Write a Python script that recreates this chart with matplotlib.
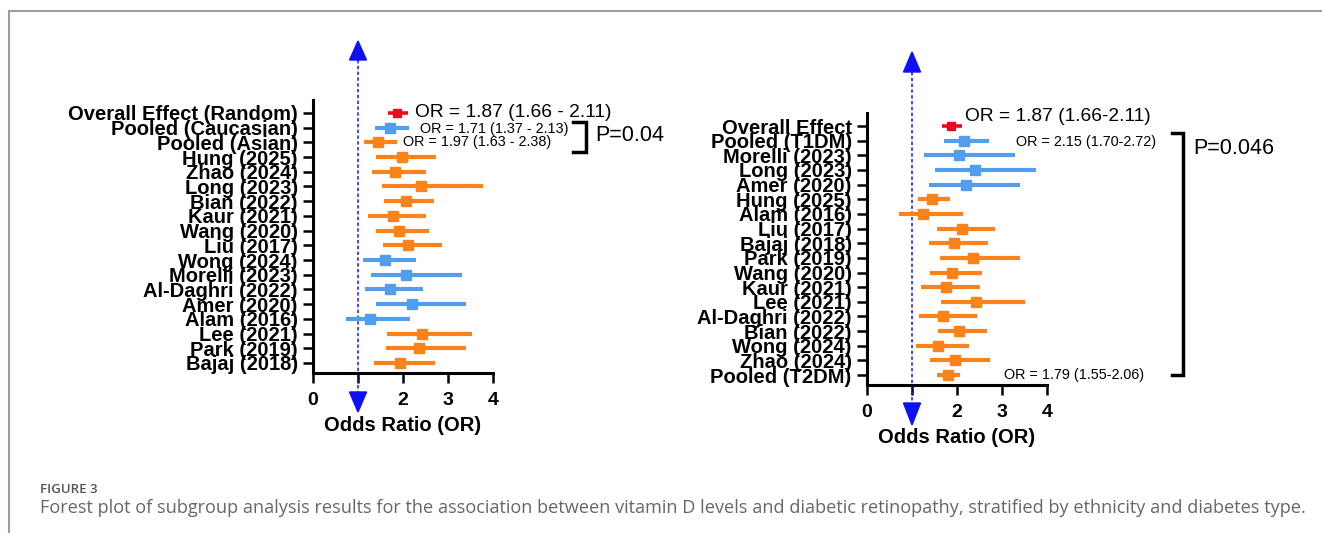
import matplotlib
matplotlib.use("Agg")
import matplotlib.pyplot as plt
from matplotlib.lines import Line2D
from matplotlib.patches import Polygon

plt.rcParams['font.family'] = ['Liberation Sans', 'DejaVu Sans']

# ---------------- data ----------------
ref_or = 1.0

left_labels = ["Overall Effect (Random)", "Pooled (Caucasian)", "Pooled (Asian)",
               "Hung (2025)", "Zhao (2024)", "Long (2023)", "Bian (2022)", "Kaur (2021)",
               "Wang (2020)", "Liu (2017)", "Wong (2024)", "Morelli (2023)",
               "Al-Daghri (2022)", "Amer (2020)", "Alam (2016)", "Lee (2021)",
               "Park (2019)", "Bajaj (2018)"]
left_or = [1.87, 1.71, 1.45, 1.97, 1.82, 2.41, 2.06, 1.77, 1.90, 2.10,
           1.60, 2.06, 1.70, 2.21, 1.27, 2.43, 2.36, 1.93]
left_lo = [1.66, 1.37, 1.14, 1.40, 1.30, 1.53, 1.58, 1.23, 1.40, 1.56,
           1.10, 1.28, 1.16, 1.40, 0.73, 1.65, 1.62, 1.36]
left_hi = [2.11, 2.13, 1.86, 2.73, 2.51, 3.77, 2.69, 2.51, 2.58, 2.86,
           2.29, 3.30, 2.45, 3.40, 2.16, 3.53, 3.41, 2.70]
left_group = ["overall", "cau", "asian", "asian", "asian", "asian", "asian", "asian",
              "asian", "asian", "cau", "cau", "cau", "cau", "cau", "asian", "asian", "asian"]

right_labels = ["Overall Effect", "Pooled (T1DM)", "Morelli (2023)", "Long (2023)",
                "Amer (2020)", "Hung (2025)", "Alam (2016)", "Liu (2017)", "Bajaj (2018)",
                "Park (2019)", "Wang (2020)", "Kaur (2021)", "Lee (2021)",
                "Al-Daghri (2022)", "Bian (2022)", "Wong (2024)", "Zhao (2024)",
                "Pooled (T2DM)"]
right_or = [1.87, 2.15, 2.04, 2.41, 2.19, 1.45, 1.25, 2.11, 1.93, 2.36,
            1.89, 1.76, 2.42, 1.68, 2.04, 1.58, 1.96, 1.79]
right_lo = [1.66, 1.70, 1.27, 1.52, 1.38, 1.13, 0.71, 1.56, 1.37, 1.62,
            1.39, 1.21, 1.65, 1.15, 1.57, 1.09, 1.39, 1.55]
right_hi = [2.11, 2.72, 3.29, 3.76, 3.40, 1.84, 2.14, 2.84, 2.68, 3.40,
            2.56, 2.50, 3.50, 2.44, 2.67, 2.27, 2.73, 2.06]
right_group = ["overall", "t1", "t1", "t1", "t1", "t2", "t2", "t2", "t2", "t2",
               "t2", "t2", "t2", "t2", "t2", "t2", "t2", "t2"]

x_ticks = [0, 1, 2, 3, 4]
x_ticklabels = ["0", "", "2", "3", "4"]
x_title = "Odds Ratio (OR)"

left_notes = [("OR = 1.87 (1.66 - 2.11)", 2.27, 0.0, 13.8),
              ("OR = 1.71 (1.37 - 2.13)", 2.38, 1.1, 10.4),
              ("OR = 1.97 (1.63 - 2.38)", 2.0, 2.0, 10.4)]
right_notes = [("OR = 1.87 (1.66-2.11)", 2.18, -0.63, 13.8),
               ("OR = 2.15 (1.70-2.72)", 3.31, 1.07, 10.4),
               ("OR = 1.79 (1.55-2.06)", 3.04, 17.0, 10.4)]
left_p = "P=0.04"
right_p = "P=0.046"

caption_head = "FIGURE 3"
caption_text = ("Forest plot of subgroup analysis results for the association between vitamin D "
                "levels and diabetic retinopathy, stratified by ethnicity and diabetes type.")

# ---------------- style ----------------
colors = {"overall": "#EA0A1E", "cau": "#519FEC", "asian": "#FB8319",
          "t1": "#519FEC", "t2": "#FB8319"}
W, H = 1322, 533
fig = plt.figure(figsize=(W / 100, H / 100), dpi=100)


def px_axes(x0, x1, ytop, ybot):
    return fig.add_axes([x0 / W, 1 - ybot / H, (x1 - x0) / W, (ybot - ytop) / H])


def forest(ax, labels, ors, los, his, groups, ylim, arrow_up, arrow_dn):
    n = len(labels)
    ys = list(range(n))
    for y, o, lo, hi, g in zip(ys, ors, los, his, groups):
        c = colors[g]
        lw = 2.6 if g == "overall" else 3.0
        ax.plot([lo, hi], [y, y], color=c, lw=lw, solid_capstyle='butt', zorder=3)
        ax.plot([o], [y], marker='s', ms=6.8 if g != "overall" else 6.2,
                color=c, mec=c, zorder=4)
    ax.set_xlim(0, 4)
    ax.set_ylim(*ylim)
    ax.set_yticks(ys)
    ax.set_yticklabels(labels, fontsize=14.5, fontweight='bold')
    ax.set_xticks(x_ticks)
    ax.set_xticklabels(x_ticklabels, fontsize=14, fontweight='bold')
    ax.set_xlabel(x_title, fontsize=14.5, fontweight='bold', labelpad=5)
    for s in ("top", "right"):
        ax.spines[s].set_visible(False)
    for s in ("left", "bottom"):
        ax.spines[s].set_linewidth(2.2)
    ax.tick_params(axis='y', length=7.5, width=1.8, pad=3.5)
    ax.tick_params(axis='x', length=7, width=1.8, pad=7)
    ax.set_facecolor('none')

    tr = ax.get_xaxis_transform()
    hw = 8.5 / 45.0
    (ut, ub), (db, dt) = arrow_up, arrow_dn
    ax.plot([ref_or, ref_or], [ub, db], transform=tr, color='#1515F0', lw=1.1,
            linestyle=(0, (2.2, 1.6)), clip_on=False, zorder=2)
    ax.add_patch(Polygon([[ref_or, ut], [ref_or - hw, ub], [ref_or + hw, ub]],
                         closed=True, transform=tr, color='#0F0FF5', clip_on=False, zorder=5))
    ax.add_patch(Polygon([[ref_or, dt], [ref_or - hw, db], [ref_or + hw, db]],
                         closed=True, transform=tr, color='#0F0FF5', clip_on=False, zorder=5))


# left panel: axes pixel box
axL = px_axes(313, 493, 100, 373)
hL = 273.0
forest(axL, left_labels, left_or, left_lo, left_hi, left_group, (17.68, -0.88),
       ((373 - 41) / hL, (373 - 60) / hL), ((373 - 392) / hL, (373 - 412) / hL))

axR = px_axes(867, 1047, 113, 385)
hR = 272.0
forest(axR, right_labels, right_or, right_lo, right_hi, right_group, (17.68, -0.89),
       ((385 - 52) / hR, (385 - 72) / hR), ((385 - 403) / hR, (385 - 425) / hR))

for txt, x, y, fs in left_notes:
    axL.text(x, y, txt, fontsize=fs, va='center', ha='left', clip_on=False)
for txt, x, y, fs in right_notes:
    axR.text(x, y, txt, fontsize=fs, va='center', ha='left', clip_on=False)

# brackets
axL.plot([5.78, 6.07, 6.07, 5.78], [0.61, 0.61, 2.65, 2.65], color='black', lw=2.5,
         clip_on=False, solid_joinstyle='miter')
axL.text(6.27, 1.5, left_p, fontsize=15.5, va='center', ha='left', clip_on=False)
axR.plot([6.78, 7.02, 7.02, 6.78], [0.48, 0.48, 17.0, 17.0], color='black', lw=2.5,
         clip_on=False, solid_joinstyle='miter')
axR.text(7.24, 1.5, right_p, fontsize=15.5, va='center', ha='left', clip_on=False)

# frame lines
fig.add_artist(Line2D([9 / W, 1], [1 - 11 / H, 1 - 11 / H], color='#9C9C9C', lw=1.5,
                      transform=fig.transFigure))
fig.add_artist(Line2D([9 / W, 9 / W], [0, 1 - 11 / H], color='#9C9C9C', lw=1.5,
                      transform=fig.transFigure))

# caption
fig.text(40 / W, 1 - 493 / H, caption_head, fontsize=9.5, color='#555555',
         family=['Open Sans', 'DejaVu Sans'], fontweight='semibold', va='baseline')
fig.text(40 / W, 1 - 513 / H, caption_text, fontsize=13.1, color='#666666',
         family=['Open Sans', 'DejaVu Sans'], va='baseline')

fig.savefig("out.png", dpi=100)
